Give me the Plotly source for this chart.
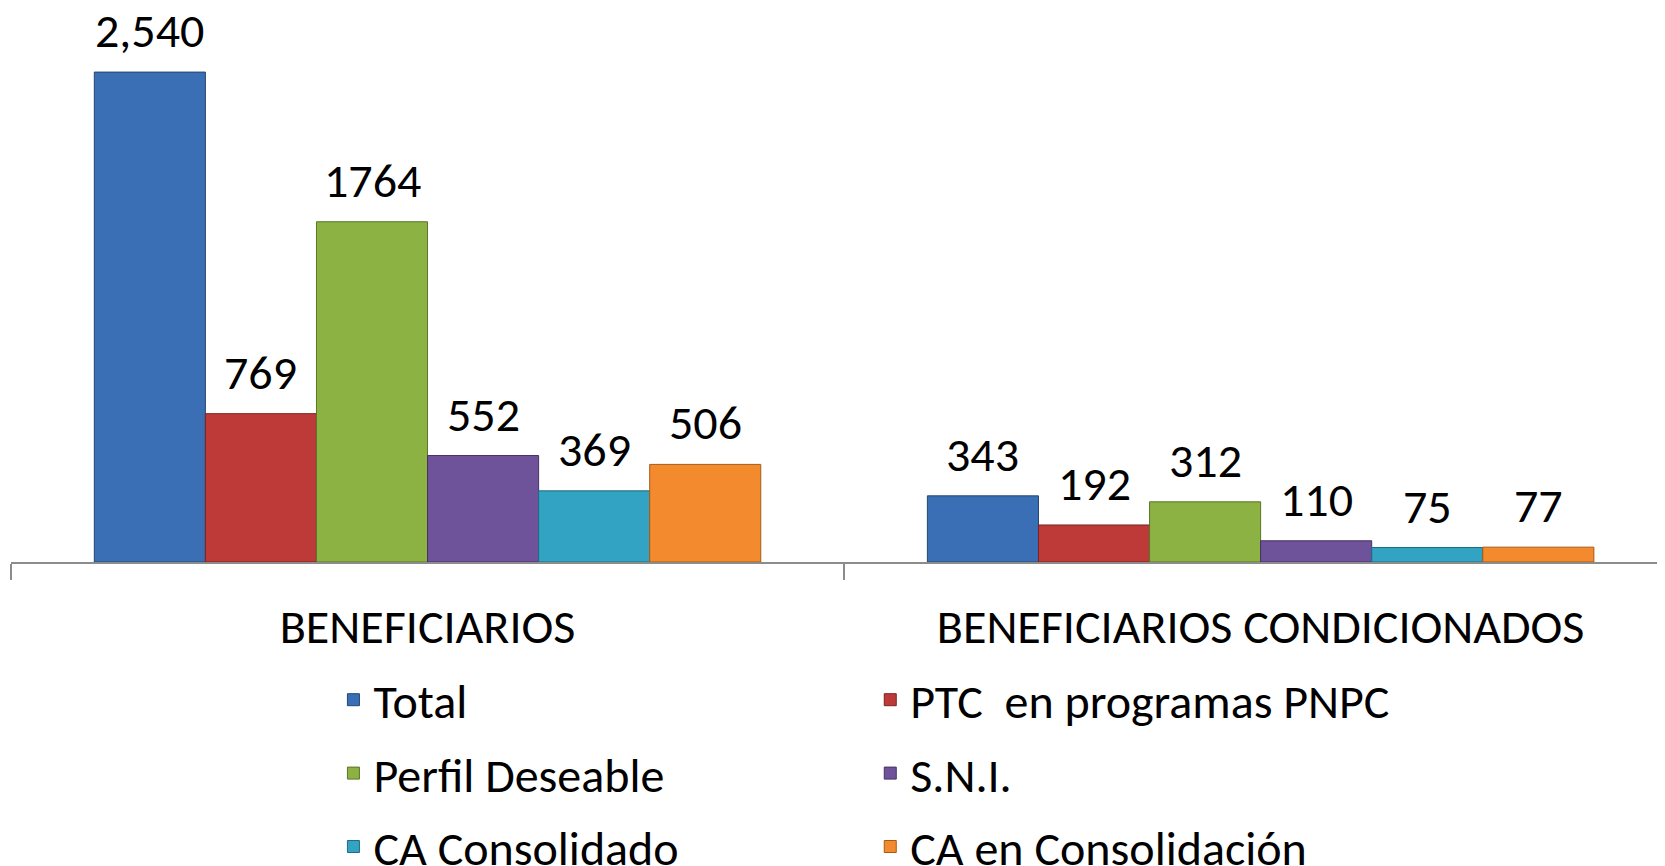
import plotly.graph_objects as go

categories = ["BENEFICIARIOS", "BENEFICIARIOS CONDICIONADOS"]
series_names = ["Total", "PTC\u00a0 en programas PNPC", "Perfil Deseable", "S.N.I.",
                "CA Consolidado", "CA en Consolidación"]
total = [2540, 343]
ptc_pnpc = [769, 192]
perfil_deseable = [1764, 312]
sni = [552, 110]
ca_consolidado = [369, 75]
ca_en_consolidacion = [506, 77]
label_total = ["2,540", "343"]
label_ptc = ["769", "192"]
label_perfil = ["1764", "312"]
label_sni = ["552", "110"]
label_cac = ["369", "75"]
label_caec = ["506", "77"]

values = [total, ptc_pnpc, perfil_deseable, sni, ca_consolidado, ca_en_consolidacion]
labels = [label_total, label_ptc, label_perfil, label_sni, label_cac, label_caec]
colors = ["#3A6FB5", "#BE3A38", "#8BB243", "#6F539A", "#32A3C2", "#F38A2D"]
edges = ["#24466F", "#7A2322", "#5A7428", "#463263", "#1F6B80", "#A65A17"]
legend_ids = ["legend", "legend2", "legend", "legend2", "legend", "legend2"]

FONT = "Carlito, Calibri, Lato, sans-serif"
FS = 48
BARGAP = 0.2

fig = go.Figure()
n = len(series_names)
slot = (1 - BARGAP) / n
for i, name in enumerate(series_names):
    fig.add_trace(go.Bar(
        x=categories, y=values[i], name=name,
        marker=dict(color=colors[i], line=dict(color=edges[i], width=1)),
        legend=legend_ids[i], legendgroup=name,
    ))
    # value labels above each bar, placed on the category axis scale
    for j in range(len(categories)):
        fig.add_annotation(
            x=j - (1 - BARGAP) / 2 + (i + 0.5) * slot, y=values[i][j],
            xref="x", yref="y", text=labels[i][j], showarrow=False,
            yanchor="bottom", yshift=10,
            font=dict(family=FONT, size=FS, color="#000000"),
        )

fig.update_layout(
    width=1665, height=866,
    margin=dict(l=3, r=0, t=12, b=312, autoexpand=False),
    paper_bgcolor="white", plot_bgcolor="white",
    barmode="group", bargap=BARGAP, bargroupgap=0,
    font=dict(family=FONT, size=FS, color="#000000"),
    xaxis=dict(
        type="category", range=[-0.5, 1.495], tickson="boundaries",
        ticks="outside", ticklen=16, tickcolor="#8C8C8C", tickwidth=1.5,
        showline=True, linecolor="#8C8C8C", linewidth=1.5,
        ticklabelstandoff=22,
        showgrid=False, tickfont=dict(family=FONT, size=FS, color="#000000"),
    ),
    yaxis=dict(range=[0, 2810], visible=False, showgrid=False, zeroline=False),
    legend=dict(
        x=0.194, xanchor="left", yref="container", y=1 - 654 / 866, yanchor="top",
        orientation="v", tracegroupgap=8, font=dict(family=FONT, size=FS),
        bgcolor="rgba(0,0,0,0)",
    ),
    legend2=dict(
        x=0.517, xanchor="left", yref="container", y=1 - 654 / 866, yanchor="top",
        orientation="v", tracegroupgap=8, font=dict(family=FONT, size=FS),
        bgcolor="rgba(0,0,0,0)",
    ),
)

fig.write_html("out.html")
